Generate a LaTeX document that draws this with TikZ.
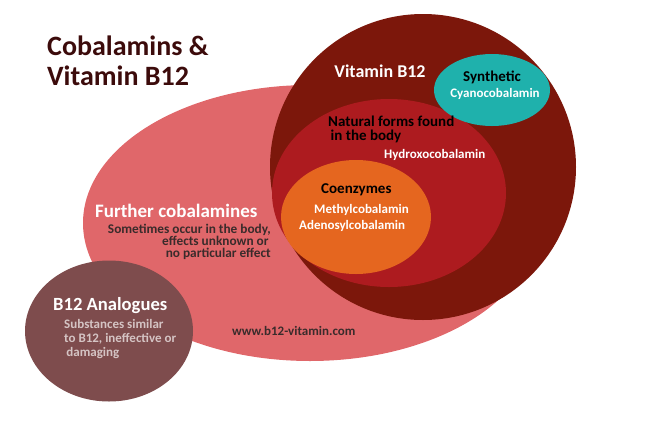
\documentclass[tikz,border=0pt]{standalone}
\usepackage{fontspec}
\setmainfont{Carlito}
\usetikzlibrary{shapes.geometric}
\definecolor{pinkc}{HTML}{E0676A}
\definecolor{darkredc}{HTML}{7C170B}
\definecolor{redc}{HTML}{AD1B1F}
\definecolor{orangec}{HTML}{E5661F}
\definecolor{tealc}{HTML}{1FB1AC}
\definecolor{brownc}{HTML}{7E4C4D}
\definecolor{titlec}{HTML}{3C0B0B}
\definecolor{darktext}{HTML}{3A2B2B}
\definecolor{greytext}{HTML}{D5C4C4}
\tikzset{
  blob/.style={ellipse, draw=none, inner sep=0pt},
  lbl/.style={inner sep=0pt, font=\bfseries},
}
\begin{document}
\begin{tikzpicture}[x=1pt,y=-1pt]
\useasboundingbox (0,0) rectangle (654,429);
% ellipses
\node[blob, fill=pinkc, minimum width=454pt, minimum height=276pt] (further) at (310,223) {};
\node[blob, fill=darkredc, minimum width=306pt, minimum height=306pt] (vitb) at (423,167) {};
\node[blob, fill=redc, minimum width=234pt, minimum height=188pt] (natural) at (389,193) {};
\node[blob, fill=orangec, minimum width=150pt, minimum height=114pt] (coenz) at (356,217) {};
\node[blob, fill=tealc, minimum width=116pt, minimum height=72pt] (synth) at (492,90) {};
\node[blob, fill=brownc, minimum width=168pt, minimum height=141pt] (analog) at (109,331) {};
% title (base anchor = last line)
\node[lbl, anchor=base west, text=titlec, align=left, font=\bfseries\fontsize{28}{30}\selectfont] (title) at (47,85) {Cobalamins \&\\Vitamin B12};
% vitamin B12
\node[lbl, anchor=base, text=white, font=\bfseries\fontsize{18}{20}\selectfont] (tvit) at (380,77) {Vitamin B12};
\node[lbl, anchor=base, text=black, font=\bfseries\fontsize{15}{16}\selectfont] (tsyn) at (492,81) {Synthetic};
\node[lbl, anchor=base, text=white, font=\bfseries\fontsize{13}{14}\selectfont] (tcyan) at (495,97) {Cyanocobalamin};
\node[lbl, anchor=base west, text=black, align=left, font=\bfseries\fontsize{15}{13.5}\selectfont] (tnat) at (328,140) {Natural forms found\\\,in the body};
\node[lbl, anchor=base west, text=white, font=\bfseries\fontsize{13}{14}\selectfont] (thydro) at (384,158) {Hydroxocobalamin};
\node[lbl, anchor=base west, text=black, font=\bfseries\fontsize{15}{16}\selectfont] (tcoen) at (321,193) {Coenzymes};
\node[lbl, anchor=base west, text=white, font=\bfseries\fontsize{13}{14}\selectfont] (tmeth) at (314,213) {Methylcobalamin};
\node[lbl, anchor=base west, text=white, font=\bfseries\fontsize{13}{14}\selectfont] (tadeno) at (299,229) {Adenosylcobalamin};
% further
\node[lbl, anchor=base west, text=white, font=\bfseries\fontsize{19}{20}\selectfont] (tfur) at (95,217) {Further cobalamines};
\node[lbl, anchor=base east, text=darktext, align=right, font=\bfseries\fontsize{13.3}{12}\selectfont] (tsome) at (271,257) {Sometimes occur in the body,\\effects unknown or\,\\no particular effect};
\node[lbl, anchor=base west, text=darktext, font=\bfseries\fontsize{13}{13}\selectfont] (tweb) at (232,335) {www.b12-vitamin.com};
% analogues
\node[lbl, anchor=base west, text=white, font=\bfseries\fontsize{18.6}{20}\selectfont] (tana) at (53,310) {B12 Analogues};
\node[lbl, anchor=base west, text=greytext, align=left, font=\bfseries\fontsize{13}{14}\selectfont] (tsub) at (64,356) {Substances similar\\to B12, ineffective or\\\,damaging};
\end{tikzpicture}
\end{document}
